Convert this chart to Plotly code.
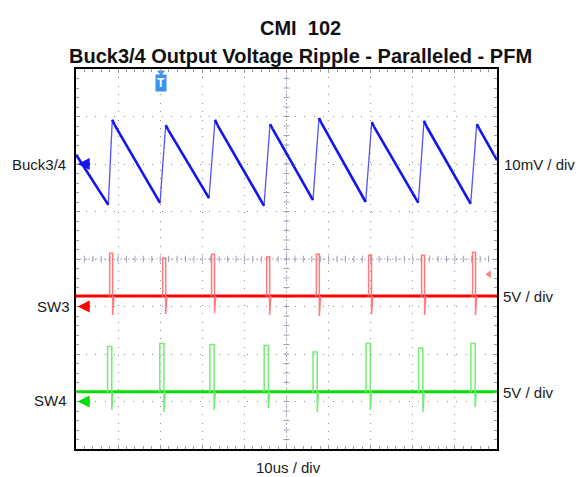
import plotly.graph_objects as go

# ---------------- data ----------------
# time axis in microseconds (10 us / div, 10 divisions)
blue_t = [0, 7.67, 8.62, 9.2, 19.95, 21.31, 21.9, 31.59, 33.02, 33.6, 44.66, 46.08, 46.7,
          56.29, 57.72, 58.3, 68.81, 70.24, 70.8, 81.31, 82.66, 83.2, 93.75, 95.18, 95.8, 100]
blue_mv = [2.0, -8.6, 9.3, 8.2, -8.2, 8.2, 7.2, -7.2, 9.3, 8.2, -8.8, 8.4, 7.4,
           -7.6, 9.7, 8.6, -8.0, 8.8, 7.8, -8.2, 9.1, 8.0, -8.4, 8.4, 7.4, 0.8]

sw3_base_v = 1.1
sw3_t = [8.0, 20.6, 32.2, 45.3, 57.1, 69.5, 82.1, 94.2]
sw3_hi = [5.6, 5.1, 5.5, 5.2, 5.5, 5.4, 5.4, 5.7]
sw3_lo = [-0.9, -0.8, -0.7, -0.9, -1.0, -0.8, -0.9, -0.9]

sw4_base_v = 1.03
sw4_t = [7.5, 19.9, 31.8, 44.7, 56.3, 68.9, 81.4, 93.8]
sw4_hi = [5.8, 6.1, 6.0, 5.9, 5.2, 6.1, 5.6, 6.1]
sw4_lo = [-0.9, -1.1, -0.9, -0.7, -1.1, -0.9, -1.1, -0.6]

trigger_t = 20.2
trigger_level_v = 3.4

# channel settings: ground position (divisions) and scale
buck_offset, buck_scale = 2, 10.0   # mV / div
sw3_offset, sw3_scale = -1, 5.0     # V / div
sw4_offset, sw4_scale = -3, 5.0     # V / div

T_MIN, T_MAX = 0, 100

# ---------------- figure ----------------
W, H = 588, 477
ML, MR, MT, MB = 76, 91, 69, 28
PW, PH = W - ML - MR, H - MT - MB


def px_x(px):
    return (px - ML) / PW


def px_y(py):
    return (H - MB - py) / PH


def pulse_path(ts, his, los, base, width):
    xs, ys = [], []
    for t, hi, lo in zip(ts, his, los):
        xs += [t - 0.3, t, t, t + width, t + width, t + width + 0.3, None]
        ys += [base, base, hi, hi, lo, base, None]
    return xs, ys


fig = go.Figure()

FAINT_RED = "rgba(255,110,110,0.9)"
FAINT_GREEN = "rgba(110,235,110,0.95)"
BLUE = "#1414f0"

# SW3 baseline + spikes
fig.add_trace(go.Scatter(x=[T_MIN, T_MAX],
                         y=[sw3_offset + sw3_base_v / sw3_scale] * 2,
                         mode="lines", line=dict(color="#ff0000", width=3), hoverinfo="skip"))
xs, ys = pulse_path(sw3_t, sw3_hi, sw3_lo, sw3_base_v, 0.7)
fig.add_trace(go.Scatter(x=xs, y=[None if v is None else sw3_offset + v / sw3_scale for v in ys],
                         mode="lines", line=dict(color=FAINT_RED, width=1.5), hoverinfo="skip"))

# SW4 baseline + spikes
fig.add_trace(go.Scatter(x=[T_MIN, T_MAX],
                         y=[sw4_offset + sw4_base_v / sw4_scale] * 2,
                         mode="lines", line=dict(color="#00e000", width=3), hoverinfo="skip"))
xs, ys = pulse_path(sw4_t, sw4_hi, sw4_lo, sw4_base_v, 1.0)
fig.add_trace(go.Scatter(x=xs, y=[None if v is None else sw4_offset + v / sw4_scale for v in ys],
                         mode="lines", line=dict(color=FAINT_GREEN, width=1.5), hoverinfo="skip"))

# Buck3/4 ripple: fast rising edges drawn thin, slow ramps thick
blue_y = [buck_offset + v / buck_scale for v in blue_mv]
rise_x, rise_y, ramp_x, ramp_y = [], [], [], []
for i in range(len(blue_t) - 1):
    seg_x = [blue_t[i], blue_t[i + 1], None]
    seg_y = [blue_y[i], blue_y[i + 1], None]
    if blue_y[i + 1] > blue_y[i]:
        rise_x += seg_x
        rise_y += seg_y
    else:
        ramp_x += seg_x
        ramp_y += seg_y
fig.add_trace(go.Scatter(x=rise_x, y=rise_y, mode="lines",
                         line=dict(color="rgba(40,40,245,0.8)", width=1.3), hoverinfo="skip"))
fig.add_trace(go.Scatter(x=ramp_x, y=ramp_y, mode="lines",
                         line=dict(color=BLUE, width=2.6), hoverinfo="skip"))

# trigger level marker (right edge)
fig.add_trace(go.Scatter(x=[98.1], y=[sw3_offset + trigger_level_v / sw3_scale],
                         mode="markers", marker=dict(symbol="triangle-left", size=7,
                                                     color="#ff8080"),
                         hoverinfo="skip", cliponaxis=False))

# trigger position marker (top)
fig.add_trace(go.Scatter(x=[trigger_t], y=[3.93], mode="markers",
                         marker=dict(symbol="triangle-down", size=7, color="#3a93ee"),
                         hoverinfo="skip", cliponaxis=False))

# centre cross with minor ticks
shapes = []
shapes.append(dict(type="line", xref="x", yref="y", x0=T_MIN, x1=T_MAX, y0=0, y1=0,
                   line=dict(color="#b8b8d0", width=1, dash="2px,2px"), layer="below"))
shapes.append(dict(type="line", xref="x", yref="y", x0=50, x1=50, y0=-4, y1=4,
                   line=dict(color="#b8b8d0", width=1, dash="2px,2px"), layer="below"))
for k in range(1, 50):
    t = k * 2
    shapes.append(dict(type="line", xref="x", yref="y", x0=t, x1=t, y0=-0.07, y1=0.07,
                       line=dict(color="#a0a0b8", width=1), layer="below"))
for k in range(-19, 20):
    yv = k * 0.2
    shapes.append(dict(type="line", xref="x", yref="y", x0=49.3, x1=50.7, y0=yv, y1=yv,
                       line=dict(color="#a0a0b8", width=1), layer="below"))

FONT = "Liberation Sans, Arial, sans-serif"
TXT = "#1a1a1a"


def label(text, px, py, xanchor="center", size=15, color=TXT):
    return dict(text=text, x=px_x(px), y=px_y(py), xref="paper", yref="paper",
                xanchor=xanchor, yanchor="middle", showarrow=False,
                font=dict(family=FONT, size=size, color=color))


annotations = [
    label("<b>CMI  102</b>", 300, 28, size=20, color="#111"),
    label("<b>Buck3/4 Output Voltage Ripple - Paralleled - PFM</b>", 300, 56, size=20, color="#111"),
    label("Buck3/4", 68, 164, "right"),
    label("SW3", 72, 306, "right"),
    label("SW4", 69, 400, "right"),
    label("10mV / div", 502, 164, "left"),
    label("5V / div", 501, 296, "left"),
    label("5V / div", 501, 392, "left"),
    label("10us / div", 288, 467),
    dict(text="<b>T</b>", x=trigger_t, y=px_y(83), xref="x", yref="paper", showarrow=False,
         xanchor="center", yanchor="middle",
         font=dict(family=FONT, size=12, color="white"), bgcolor="#3a93ee", borderpad=1),
]
# ground reference arrows
for off, col in [(buck_offset, BLUE), (sw3_offset, "#ff0000"), (sw4_offset, "#00e000")]:
    annotations.append(dict(x=0.4, y=off, xref="x", yref="y", text="", showarrow=True,
                            ax=14, ay=0, arrowhead=2, arrowsize=1.2, arrowwidth=2,
                            arrowcolor=col))

axis_common = dict(showticklabels=False, showline=True, linecolor="black", linewidth=2,
                   mirror="allticks", ticks="inside", tickcolor="#9a9a9a", ticklen=4,
                   zeroline=False, showgrid=True, gridcolor="#8c8c8c", gridwidth=1)

fig.update_layout(
    width=W, height=H,
    margin=dict(l=ML, r=MR, t=MT, b=MB),
    paper_bgcolor="white", plot_bgcolor="white",
    showlegend=False,
    shapes=shapes,
    annotations=annotations,
    xaxis=dict(range=[T_MIN, T_MAX], dtick=10, tick0=0, griddash="1px,7.42px",
               minor=dict(dtick=2, ticks="inside", ticklen=3, tickcolor="#9a9a9a", showgrid=False),
               **axis_common),
    yaxis=dict(range=[-4, 4], dtick=1, tick0=0, griddash="1px,8.5px",
               minor=dict(dtick=0.2, ticks="inside", ticklen=3, tickcolor="#9a9a9a", showgrid=False),
               **axis_common),
)

fig.write_html("out.html", config={"displayModeBar": False},
               post_script="document.body.style.margin='0';")
